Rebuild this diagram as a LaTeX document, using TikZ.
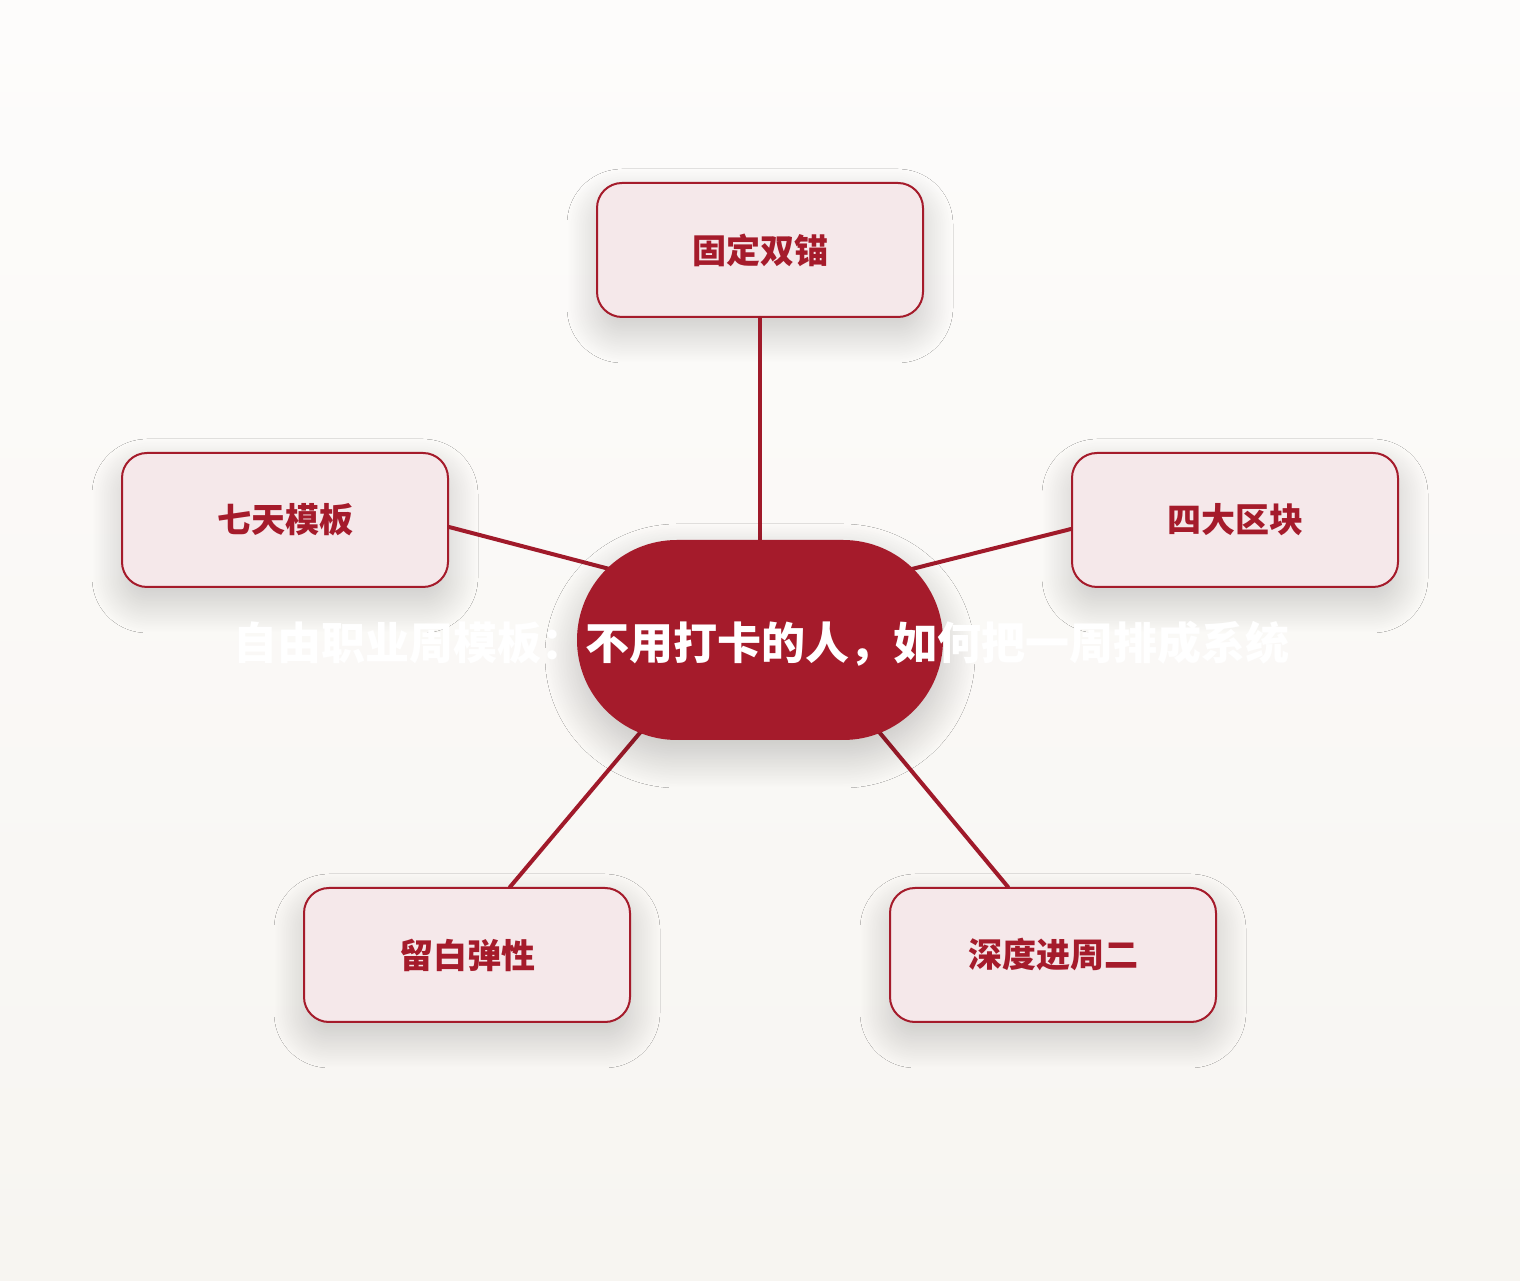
\documentclass[tikz,border=0pt]{standalone}
\usepackage{fontspec}
\newfontfamily\cjk{Noto Sans CJK SC}
\usetikzlibrary{shadows.blur,calc}
\definecolor{bgtop}{HTML}{FDFCFB}
\definecolor{bgbot}{HTML}{F7F5F1}
\definecolor{hubred}{HTML}{A51B2B}
\definecolor{satfill}{HTML}{F5E8EA}
\definecolor{linered}{HTML}{A01A2A}
\tikzset{
  sat/.style={draw=hubred, line width=2pt, fill=satfill, rounded corners=25pt,
    minimum width=326pt, minimum height=134pt, inner sep=0pt,
    text=hubred, font=\cjk\bfseries\fontsize{34}{40}\selectfont,
    blur shadow={shadow xshift=0pt, shadow yshift=-16pt, shadow blur radius=30pt, shadow blur steps=40, shadow opacity=20}},
  hubshape/.style={fill=hubred, rounded corners=100pt,
    minimum width=366pt, minimum height=200pt, inner sep=0pt,
    blur shadow={shadow xshift=0pt, shadow yshift=-16pt, shadow blur radius=32pt, shadow blur steps=40, shadow opacity=22}},
  hubtext/.style={text=white, font=\cjk\bfseries\fontsize{44}{52}\selectfont, inner sep=0pt},
  conn/.style={draw=linered, line width=4pt, line cap=round}
}
\begin{document}
\begin{tikzpicture}[x=1pt,y=1pt]
\useasboundingbox (0,0) rectangle (1520,1280);
\shade[top color=bgtop, bottom color=bgbot] (0,0) rectangle (1520,1280);
% satellites
\node[sat] (s1) at (760,1030) {固定双锚};
\node[sat] (s2) at (285,760) {七天模板};
\node[sat] (s3) at (1235,760) {四大区块};
\node[sat] (s4) at (467,325) {留白弹性};
\node[sat] (s5) at (1053,325) {深度进周二};
% hub end points (covered by the hub)
\coordinate (ht) at (760,720);
\coordinate (hl) at (640,703);
\coordinate (hr) at (880,703);
\coordinate (hbl) at (660,571);
\coordinate (hbr) at (860,571);
% connectors
\draw[conn] (s1.south) -- (ht);
\draw[conn] ([yshift=-7pt]s2.east) -- (hl);
\draw[conn] ([yshift=-9pt]s3.west) -- (hr);
\draw[conn] ([xshift=43pt]s4.north) -- (hbl);
\draw[conn] ([xshift=-45pt]s5.north) -- (hbr);
% hub
\node[hubshape] (hub) at (760,640) {};
\node[hubtext] (hubt) at (761,636) {自由职业周模板：不用打卡的人，如何把一周排成系统};
\end{tikzpicture}
\end{document}
